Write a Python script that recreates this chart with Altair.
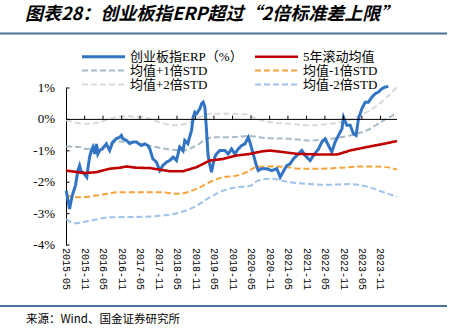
import altair as alt
import pandas as pd

TITLE = "图表28：创业板指ERP超过“2倍标准差上限”"
SOURCE = "来源：Wind、国金证券研究所"

# legend order (legend fills column by column)
SERIES = ["创业板指ERP（%）", "均值+1倍STD", "均值+2倍STD", "5年滚动均值", "均值-1倍STD", "均值-2倍STD"]
COLORS = ["#3174C4", "#A7BAC6", "#D9D9D9", "#C00000", "#F6A33B", "#A0C2EA"]
DASHES = [[1, 0], [6, 3], [6, 3], [1, 0], [6, 3], [6, 3]]
WIDTHS = [3.0, 2.0, 2.0, 2.6, 2.0, 2.0]

ERP_DATES = ["2015-05-03", "2015-05-18", "2015-06-05", "2015-06-21", "2015-07-07", "2015-08-03", "2015-08-26",
             "2015-09-12", "2015-09-29", "2015-10-14", "2015-11-10", "2015-11-22", "2015-12-03", "2015-12-20",
             "2016-01-06", "2016-01-22", "2016-02-08", "2016-02-25", "2016-03-10", "2016-03-28", "2016-04-27",
             "2016-06-03", "2016-07-05", "2016-08-04", "2016-09-10", "2016-10-12", "2016-10-29", "2016-11-11",
             "2016-12-18", "2017-01-20", "2017-02-19", "2017-03-26", "2017-05-14", "2017-06-16", "2017-07-16",
             "2017-08-05", "2017-09-04", "2017-10-10", "2017-11-12", "2017-12-12", "2018-01-18", "2018-02-19",
             "2018-03-23", "2018-04-26", "2018-05-28", "2018-06-30", "2018-07-17", "2018-08-16", "2018-09-22",
             "2018-10-08", "2018-10-24", "2018-11-11", "2018-12-13", "2018-12-30", "2019-01-15", "2019-02-01",
             "2019-02-18", "2019-03-04", "2019-03-20", "2019-04-07", "2019-04-23", "2019-05-10", "2019-05-26",
             "2019-06-28", "2019-08-17", "2019-09-19", "2019-10-22", "2019-11-24", "2019-12-27", "2020-01-30",
             "2020-03-02", "2020-04-04", "2020-04-20", "2020-05-23", "2020-06-19", "2020-07-12", "2020-08-15",
             "2020-10-03", "2020-11-22", "2021-01-11", "2021-02-13", "2021-03-13", "2021-04-19", "2021-05-21",
             "2021-06-23", "2021-08-12", "2021-09-15", "2021-10-17", "2021-12-06", "2022-01-08", "2022-02-27",
             "2022-04-01", "2022-05-03", "2022-06-05", "2022-07-08", "2022-08-10", "2022-09-12", "2022-10-16",
             "2022-11-01", "2022-12-04", "2023-01-06", "2023-02-08", "2023-03-05", "2023-03-28", "2023-05-01",
             "2023-06-03", "2023-07-05", "2023-08-08", "2023-09-10", "2023-10-12", "2023-11-15", "2023-12-18",
             "2024-01-17"]
ERP_VALUES = [-2.27, -2.53, -2.85, -2.59, -2.37, -2.10, -1.63,
              -1.47, -1.68, -1.68, -1.79, -1.84, -1.57, -1.20,
              -0.99, -0.88, -1.10, -0.78, -1.10, -0.99, -0.93,
              -0.78, -0.99, -0.72, -0.61, -0.57, -0.51, -0.61,
              -0.67, -0.77, -0.72, -0.72, -0.83, -0.78, -0.83,
              -0.93, -1.25, -1.36, -1.63, -1.47, -1.36, -1.31,
              -1.20, -1.31, -0.88, -1.00, -0.67, -0.77, -0.35,
              0.07, 0.23, 0.18, 0.34, 0.50, 0.55, 0.39,
              -0.41, -1.15, -1.42, -1.68, -1.42, -1.20, -1.10,
              -0.99, -0.99, -1.10, -0.94, -1.10, -0.94, -0.83,
              -0.78, -0.57, -0.72, -1.10, -1.42, -1.63, -1.57,
              -1.57, -1.63, -1.57, -1.84, -1.68, -1.47, -1.42,
              -1.26, -1.10, -0.99, -1.15, -1.31, -1.15, -0.94,
              -0.72, -0.62, -0.83, -1.04, -0.72, -0.51, -0.30,
              0.07, -0.19, -0.19, -0.46, -0.51, 0.02, 0.34,
              0.55, 0.55, 0.71, 0.82, 0.87, 0.98, 1.03,
              1.05]

MEAN_DATES = ["2015-05-03", "2015-11-01", "2016-02-25", "2016-07-05", "2016-10-12", "2016-12-18", "2017-03-26",
              "2017-08-05", "2017-11-12", "2018-02-19", "2018-06-30", "2018-11-11", "2019-03-21", "2019-07-31",
              "2019-12-11", "2020-04-20", "2020-08-13", "2020-11-06", "2021-02-13", "2021-08-07", "2022-03-29",
              "2022-08-27", "2023-01-06", "2023-06-20", "2023-12-01", "2024-04-12"]
MEAN_VALUES = [-1.63, -1.71, -1.68, -1.57, -1.54, -1.50, -1.54,
               -1.55, -1.60, -1.65, -1.65, -1.52, -1.31, -1.26,
               -1.15, -1.10, -1.02, -0.99, -1.03, -1.10, -1.12,
               -1.12, -0.99, -0.88, -0.78, -0.69]

P1_DATES = ["2015-05-03", "2015-09-12", "2015-11-17", "2016-03-28", "2016-10-12", "2017-03-26", "2017-09-04",
            "2018-02-19", "2018-06-30", "2018-11-11", "2019-02-18", "2019-04-23", "2019-10-06", "2020-04-20",
            "2020-08-13", "2020-11-06", "2021-05-21", "2021-12-06", "2022-06-22", "2023-01-06", "2023-06-20",
            "2023-12-01", "2024-04-12"]
P1_VALUES = [-0.86, -0.88, -0.94, -0.90, -0.70, -0.76, -0.86,
             -0.96, -0.99, -0.83, -0.62, -0.57, -0.57, -0.53,
             -0.58, -0.60, -0.62, -0.67, -0.62, -0.51, -0.35,
             -0.03, 0.20]

P2_DATES = ["2015-05-03", "2015-11-17", "2016-03-28", "2016-07-05", "2016-11-15", "2017-05-30", "2017-11-12",
            "2018-03-20", "2018-08-03", "2018-12-13", "2019-03-21", "2019-07-31", "2020-03-19", "2020-06-26",
            "2020-11-06", "2021-05-21", "2021-12-06", "2022-06-22", "2023-01-06", "2023-06-20", "2023-12-01",
            "2024-04-12"]
P2_VALUES = [-0.03, -0.14, -0.09, 0.02, 0.10, 0.07, -0.09,
             -0.19, -0.14, 0.07, 0.18, 0.18, 0.16, 0.02,
             -0.09, -0.14, -0.19, -0.14, -0.01, 0.23, 0.61,
             1.03]

M1_DATES = ["2015-05-03", "2015-09-12", "2016-03-28", "2016-10-12", "2017-04-27", "2017-11-12", "2018-05-12",
            "2018-11-11", "2019-03-21", "2019-07-31", "2019-12-11", "2020-03-19", "2020-06-26", "2020-11-06",
            "2021-05-05", "2021-08-07", "2022-03-29", "2022-09-29", "2023-04-14", "2023-09-27", "2024-02-06",
            "2024-04-12"]
M1_VALUES = [-2.43, -2.48, -2.41, -2.32, -2.32, -2.32, -2.37,
             -2.21, -2.00, -1.84, -1.79, -1.68, -1.52, -1.50,
             -1.52, -1.57, -1.57, -1.54, -1.50, -1.50, -1.54,
             -1.60]

M2_DATES = ["2015-05-03", "2015-07-24", "2015-12-20", "2016-07-05", "2017-05-30", "2017-11-12", "2018-05-12",
            "2018-11-11", "2019-03-21", "2019-07-31", "2019-12-11", "2020-04-20", "2020-07-09", "2020-11-06",
            "2021-05-21", "2021-12-06", "2022-06-22", "2023-01-06", "2023-06-20", "2023-12-01", "2024-04-12"]
M2_VALUES = [-3.17, -3.31, -3.23, -3.12, -3.10, -3.07, -2.98,
             -2.75, -2.48, -2.27, -2.16, -2.12, -1.95, -1.89,
             -2.00, -2.06, -2.08, -2.06, -2.14, -2.32, -2.46]

TICK_LABELS = ["2015-05", "2015-11", "2016-05", "2016-11", "2017-05", "2017-11", "2018-05", "2018-11",
               "2019-05", "2019-11", "2020-05", "2020-11", "2021-05", "2021-11", "2022-05", "2022-11",
               "2023-05", "2023-11"]
Y_TICKS = [-4, -3, -2, -1, 0, 1]
Y_LABELS = ["-4%", "-3%", "-2%", "-1%", "0%", "1%"]

# ---------------- data tables ----------------
by_name = {
    "创业板指ERP（%）": (ERP_DATES, ERP_VALUES),
    "5年滚动均值": (MEAN_DATES, MEAN_VALUES),
    "均值+1倍STD": (P1_DATES, P1_VALUES),
    "均值-1倍STD": (M1_DATES, M1_VALUES),
    "均值+2倍STD": (P2_DATES, P2_VALUES),
    "均值-2倍STD": (M2_DATES, M2_VALUES),
}
rows = []
for name, (ds, vs) in by_name.items():
    for d, v in zip(ds, vs):
        rows.append({"series": name, "date": d, "value": v})
df = pd.DataFrame(rows)

xlab_df = pd.DataFrame({"date": [t + "-01" for t in TICK_LABELS], "label": TICK_LABELS})
ticks_df = xlab_df.iloc[1:]
ylab_df = pd.DataFrame({"value": Y_TICKS, "label": Y_LABELS})
one = pd.DataFrame({"a": [0]})

BANDS = ["均值+1倍STD", "均值+2倍STD", "均值-1倍STD", "均值-2倍STD"]
MAIN = ["创业板指ERP（%）", "5年滚动均值"]

# ---------------- scales & axes ----------------
X0 = alt.DateTime(year=2015, month=5, date=1, utc=True)
x_scale = alt.Scale(type="utc", domain=[X0, alt.DateTime(year=2024, month=4, date=12, utc=True)])
y_scale = alt.Scale(domain=[-4, 1], nice=False, zero=False)

y_axis = alt.Axis(values=Y_TICKS, labels=False, domainColor="black", domainWidth=1,
                  ticks=False, grid=False, title=None)

legend = alt.Legend(title=None, orient="none", legendX=31, legendY=-38, columns=2,
                    columnPadding=6, rowPadding=-1.5, symbolType="M-4.3,0H4.3", symbolSize=100,
                    labelFont="Liberation Serif, Noto Sans CJK SC", labelFontSize=13,
                    labelOffset=20, labelColor="black", labelLimit=300)

base = alt.Chart(df).encode(
    x=alt.X("date:T", scale=x_scale, axis=None),
    y=alt.Y("value:Q", scale=y_scale, axis=y_axis),
    color=alt.Color("series:N", scale=alt.Scale(domain=SERIES, range=COLORS), legend=legend, title=None),
    strokeDash=alt.StrokeDash("series:N", scale=alt.Scale(domain=SERIES, range=DASHES), title=None),
    strokeWidth=alt.StrokeWidth("series:N", scale=alt.Scale(type="ordinal", domain=SERIES, range=WIDTHS), title=None),
)

bands = base.transform_filter(alt.FieldOneOfPredicate(field="series", oneOf=BANDS)).mark_line(interpolate="monotone")
main = base.transform_filter(alt.FieldOneOfPredicate(field="series", oneOf=MAIN)).mark_line()

zero = alt.Chart(one).mark_rule(color="black", strokeWidth=1).encode(
    y=alt.datum(0, scale=y_scale, axis=y_axis))
xticks = alt.Chart(ticks_df).mark_rule(color="black", strokeWidth=1).encode(
    x=alt.X("date:T", scale=x_scale, axis=None), y=alt.datum(0), y2=alt.datum(0.12))
yticks = alt.Chart(ylab_df).mark_rule(color="black", strokeWidth=1).encode(
    y=alt.Y("value:Q", scale=y_scale, axis=y_axis),
    x=alt.datum(X0, scale=x_scale, axis=None),
    x2=alt.datum(alt.DateTime(year=2015, month=6, date=5, utc=True)))

xlabels = alt.Chart(xlab_df).mark_text(
    angle=90, align="left", baseline="middle", dx=3, font="Liberation Mono", fontSize=10,
    color="black").encode(
    x=alt.X("date:T", scale=x_scale, axis=None), y=alt.datum(-4, scale=y_scale, axis=y_axis), text="label:N")
ylabels = alt.Chart(ylab_df).mark_text(
    align="right", baseline="middle", dx=-11, font="Liberation Serif", fontSize=13,
    color="black").encode(
    y=alt.Y("value:Q", scale=y_scale, axis=y_axis), x=alt.datum(X0, scale=x_scale, axis=None), text="label:N")

title = alt.Chart(pd.DataFrame({"t": [TITLE]})).mark_text(
    align="left", baseline="middle", font="Noto Sans CJK SC", fontSize=18, fontStyle="italic",
    fontWeight="bold", color="black").encode(x=alt.value(-41), y=alt.value(-73), text="t:N")
source = alt.Chart(pd.DataFrame({"t": [SOURCE]})).mark_text(
    align="left", baseline="middle", font="Noto Sans CJK SC", fontSize=11.5, color="black").encode(
    x=alt.value(-40), y=alt.value(232), text="t:N")
sep_top = alt.Chart(one).mark_rule(color="#4A7396", strokeWidth=2).encode(
    x=alt.value(-66), x2=alt.value(381), y=alt.value(-54.5))
sep_bot = alt.Chart(one).mark_rule(color="#4A7396", strokeWidth=2).encode(
    x=alt.value(-66), x2=alt.value(381), y=alt.value(218))

chart = alt.layer(bands, main, zero, xticks, yticks, xlabels, ylabels, title, source, sep_top, sep_bot).properties(
    width=331, height=157,
    autosize=alt.AutoSizeParams(type="none"),
    padding={"left": 66, "top": 88, "right": 57, "bottom": 89},
    background="white",
).configure_view(stroke=None)

chart.save("out.html", embed_options={"renderer": "svg", "actions": False})
